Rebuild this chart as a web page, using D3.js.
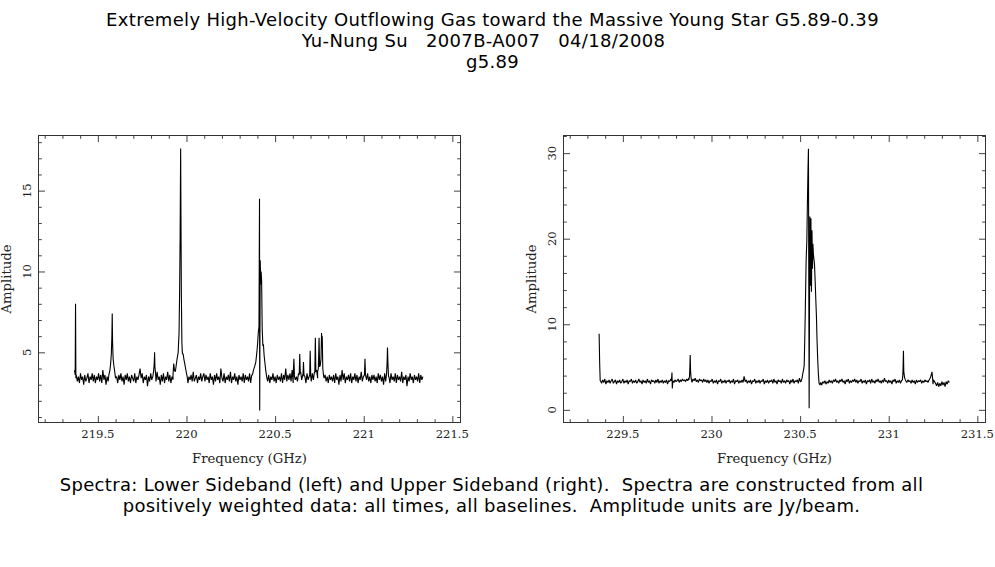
<!DOCTYPE html>
<html>
<head>
<meta charset="utf-8">
<script src="https://cdn.jsdelivr.net/npm/d3@7"></script>
<style>
  body { margin: 0; background: #fff; }
  .ticks line { stroke: #444; stroke-width: 1; }
</style>
</head>
<body>
<svg id="chart" width="995" height="567"></svg>
<script>

    // ---- header / footer text ----
    const titleLines = [
        "Extremely High-Velocity Outflowing Gas toward the Massive Young Star G5.89-0.39",
        "Yu-Nung Su   2007B-A007   04/18/2008   ",
        "g5.89"
    ];
    const captionLines = [
        "Spectra: Lower Sideband (left) and Upper Sideband (right).  Spectra are constructed from all",
        "positively weighted data: all times, all baselines.  Amplitude units are Jy/beam."
    ];

    // ---- lower sideband (left panel) ----
    const lsbDomain = [219.165, 221.546];
    const lsbAmpDomain = [0.66, 18.41];
    const lsbXTicks = [219.5, 220, 220.5, 221, 221.5];
    const lsbYTicks = [5, 10, 15];
    const lsbYMinor = [1, 2, 3, 4, 6, 7, 8, 9, 11, 12, 13, 14, 16, 17, 18];

    // channel noise: start 219.378 GHz, step 0.006 GHz
    const lsbStart = 219.378, lsbStep = 0.006;
    const lsbNoise = [
        3.6,3.2,3.5,3.1,3.7,3.3,3.5,3.0,3.6,3.2,3.4,3.7,3.1,3.5,3.3,3.7,3.2,3.6,3.1,3.5,
        3.3,3.7,3.2,3.6,3.1,3.9,3.3,3.6,3.0,3.5,3.2,3.7,3.3,3.6,3.1,3.4,3.7,3.2,3.5,3.1,
        3.6,3.3,3.7,3.2,3.5,3.0,3.6,3.3,3.7,3.2,3.5,3.1,3.6,3.4,3.2,3.7,3.1,3.5,3.3,3.6,
        4.0,3.4,3.7,3.1,3.5,3.3,3.6,2.9,3.5,3.2,3.7,3.3,3.5,3.1,3.6,3.2,3.8,3.3,3.5,3.0,
        3.6,3.2,3.7,3.1,3.5,3.3,3.8,3.2,3.6,3.1,3.5,3.3,3.7,3.4,3.5,3.6,3.2,3.5,3.3,3.6,
        3.5,3.2,3.6,3.3,3.7,3.1,3.5,3.3,3.6,3.2,3.8,3.2,3.4,3.6,3.1,3.5,3.3,3.7,3.2,3.5,
        3.7,3.2,3.6,3.3,3.5,3.1,3.7,3.3,3.5,3.0,3.6,3.2,3.7,3.3,3.5,3.1,4.0,3.4,3.2,3.7,
        3.1,3.5,3.3,3.6,3.2,3.8,3.1,3.5,3.3,3.7,3.2,3.5,3.0,3.6,3.3,3.5,3.2,3.7,3.1,3.6,
        3.3,3.5,3.2,3.7,3.1,3.6,3.3,3.5,3.2,3.8,3.1,3.5,3.3,3.6,3.2,3.5,3.0,3.7,3.3,3.5,
        3.2,3.6,3.1,3.5,3.3,3.7,3.2,3.5,3.1,3.6,3.3,3.5,3.2,3.7,3.1,3.6,3.3,4.0,3.2,3.6,
        3.3,3.7,3.2,3.9,3.1,3.6,3.3,3.5,3.2,3.7,3.1,3.8,3.3,3.6,3.2,3.5,3.1,3.7,3.3,3.5,
        3.6,3.2,3.7,3.3,3.8,3.2,3.9,3.4,3.8,3.3,3.7,3.5,3.8,3.4,3.6,3.2,3.5,3.1,3.6,3.3,
        3.5,3.2,3.6,3.1,3.7,3.3,3.5,3.0,3.6,3.2,3.9,3.3,3.7,3.1,3.5,3.3,3.6,3.2,3.7,3.1,
        3.5,3.3,3.7,3.2,3.6,3.1,3.5,3.3,3.8,3.2,3.5,3.0,3.6,3.3,3.7,3.2,3.5,3.1,3.6,3.3,
        3.6,3.2,3.5,3.1,3.7,3.3,3.6,3.2,3.5,3.0,3.7,3.2,3.6,3.3,3.5,3.1,3.7,3.3,3.5,3.2,
        3.7,3.1,3.6,3.3,3.5,3.2,3.8,3.1,3.5,3.3,3.6,2.9,3.5,3.2,3.7,3.3,3.5,3.1,3.6,3.3,
        3.5,3.2,3.7,3.1,3.6,3.3,3.5
    ];

    // spectral lines, [GHz, Jy/beam]
    const lsbLines = [
        [[219.368,3.9],[219.372,3.6],[219.374,8.0],[219.376,3.4]],
        [[219.562,3.6],[219.568,3.9],[219.572,4.3],[219.576,4.9],[219.579,6.0],[219.581,7.4],
         [219.583,5.6],[219.586,4.6],[219.590,4.2],[219.595,3.8],[219.600,3.4]],
        [[219.814,3.8],[219.818,4.3],[219.820,5.0],[219.822,4.1],[219.826,3.6]],
        [[219.924,3.6],[219.928,4.3],[219.932,3.9],[219.937,3.8],[219.942,4.2],[219.947,4.6],
         [219.953,5.0],[219.958,6.2],[219.961,8.6],[219.964,12.0],[219.967,17.6],[219.969,13.0],
         [219.971,8.6],[219.974,5.6],[219.977,4.9],[219.981,4.9],[219.985,4.6],[219.990,4.3],
         [219.995,4.0],[220.000,3.7],[220.004,3.5]],
        [[220.372,3.6],[220.378,3.9],[220.384,4.1],[220.391,4.4],[220.397,5.0],[220.401,5.5],
         [220.405,6.2],[220.409,6.6],[220.412,14.5],[220.413,1.4],[220.416,10.7],[220.419,9.2],
         [220.421,10.0],[220.424,9.4],[220.427,6.5],[220.431,5.4],[220.434,5.5],[220.438,4.8],
         [220.442,4.4],[220.447,3.9],[220.452,3.5]],
        [[220.602,3.6],[220.606,4.6],[220.609,3.5]],
        [[220.636,3.6],[220.639,4.9],[220.642,3.7]],
        [[220.657,3.5],[220.660,4.4],[220.663,3.6]],
        [[220.695,3.6],[220.698,5.1],[220.701,3.5]],
        [[220.724,3.7],[220.727,5.9],[220.730,3.8]],
        [[220.740,3.8],[220.744,4.0],[220.748,5.9],[220.751,4.1],[220.755,4.2],[220.759,4.6],
         [220.762,6.2],[220.764,5.5],[220.766,6.0],[220.769,4.0],[220.773,3.6]],
        [[221.004,3.6],[221.007,4.6],[221.010,3.6]],
        [[221.129,3.7],[221.132,4.4],[221.134,5.3],[221.137,4.2],[221.140,3.5]]
    ];

    // ---- upper sideband (right panel) ----
    const usbDomain = [229.165, 231.546];
    const usbAmpDomain = [-1.48, 32.06];
    const usbXTicks = [229.5, 230, 230.5, 231, 231.5];
    const usbYTicks = [0, 10, 20, 30];
    const usbYMinor = [2, 4, 6, 8, 12, 14, 16, 18, 22, 24, 26, 28, 32];

    const usbStart = 229.374, usbStep = 0.006;
    const usbNoise = [
        3.4,3.1,3.5,3.2,3.6,3.0,3.4,3.2,3.5,3.1,3.4,3.6,3.1,3.3,3.5,3.0,3.4,3.2,3.5,3.1,
        3.3,3.6,3.1,3.4,3.2,3.5,3.0,3.4,3.3,3.6,3.1,3.4,3.2,3.5,3.1,3.3,3.6,3.2,3.4,3.0,
        3.5,3.2,3.4,3.1,3.6,3.2,3.4,3.0,3.5,3.3,3.4,3.1,3.5,3.2,3.6,3.1,3.4,3.2,3.5,3.1,
        3.4,3.2,3.5,3.0,3.4,3.3,3.6,3.1,3.4,3.2,3.5,3.3,3.4,3.6,3.2,3.5,3.3,3.6,3.4,3.5,
        3.3,3.6,3.4,3.7,3.3,3.5,3.2,3.6,3.4,3.7,3.3,3.5,3.2,3.6,3.4,3.5,3.2,3.6,3.3,3.5,
        3.2,3.5,3.1,3.4,3.3,3.6,3.1,3.4,3.2,3.5,3.0,3.4,3.3,3.6,3.1,3.4,3.2,3.5,3.1,3.4,
        3.3,3.5,3.1,3.4,3.2,3.6,3.0,3.4,3.3,3.5,3.1,3.4,3.2,3.5,3.2,3.9,3.3,3.5,3.1,3.4,
        3.2,3.5,3.0,3.4,3.3,3.6,3.1,3.4,3.2,3.5,3.1,3.4,3.3,3.6,3.0,3.4,3.2,3.5,3.1,3.4,
        3.3,3.5,3.1,3.6,3.2,3.4,3.0,3.5,3.3,3.4,3.1,3.6,3.2,3.4,3.1,3.5,3.3,3.4,3.0,3.5,
        3.2,3.6,3.1,3.4,3.3,3.5,3.1,3.7,3.3,3.5,3.2,3.4,3.3,3.5,3.2,3.4,3.3,3.5,3.2,3.4,
        3.3,3.4,3.2,3.5,3.1,3.3,3.0,3.2,2.9,3.3,3.1,3.4,3.0,3.3,3.1,3.5,3.2,3.4,3.1,3.5,
        3.3,3.6,3.2,3.4,3.1,3.5,3.3,3.6,3.2,3.4,3.0,3.5,3.3,3.6,3.1,3.4,3.2,3.5,3.3,3.6,
        3.2,3.5,3.1,3.4,3.3,3.6,3.1,3.4,3.2,3.5,3.0,3.4,3.3,3.5,3.1,3.6,3.2,3.4,3.1,3.5,
        3.3,3.6,3.2,3.4,3.1,3.5,3.2,3.7,3.3,3.4,3.1,3.5,3.2,3.4,3.0,3.5,3.3,3.6,3.1,3.4,
        3.2,3.5,3.1,3.4,3.3,3.5,3.1,3.4,3.2,3.5,3.3,3.4,3.1,3.5,3.2,3.4,3.0,3.5,3.2,3.4,
        3.3,3.5,3.1,3.4,3.2,3.5,3.3,3.4,3.2,3.5,3.3,3.6,3.4,3.5,3.3,3.1,2.8,3.2,2.7,3.1,
        2.8,3.3,2.9,3.2,2.7,3.3,3.0,3.4,3.2
    ];

    const usbLines = [
        [[229.366,8.9],[229.369,5.5],[229.372,3.4]],
        [[229.774,3.4],[229.777,4.35],[229.779,2.5],[229.782,3.4]],
        [[229.872,3.5],[229.876,3.9],[229.878,5.0],[229.880,6.4],[229.882,4.5],[229.885,3.7]],
        [[230.505,3.3],[230.511,3.7],[230.515,4.2],[230.519,4.6],[230.523,5.2],[230.526,8.0],
         [230.529,11.3],[230.534,17.5],[230.538,19.8],[230.541,24.0],[230.544,27.6],[230.547,30.5],
         [230.549,15.0],[230.551,0.2],[230.553,12.0],[230.555,22.6],[230.558,14.5],[230.561,22.4],
         [230.564,13.8],[230.567,21.0],[230.570,16.5],[230.572,19.4],[230.575,18.2],[230.578,17.6],
         [230.581,17.1],[230.585,15.0],[230.588,13.2],[230.592,11.0],[230.595,8.5],[230.599,6.0],
         [230.603,4.2],[230.607,3.1],[230.612,2.9]],
        [[231.077,3.5],[231.080,4.2],[231.083,6.9],[231.085,4.5],[231.089,3.8],[231.094,3.5]],
        [[231.225,3.4],[231.231,3.6],[231.236,3.8],[231.240,4.1],[231.244,4.45],[231.247,3.8],[231.250,3.0]]
    ];

    // merge channel noise with the line profiles
    function buildSpectrum(start, step, noise, lines) {
        const pts = noise.map(function (a, i) { return [start + i * step, a]; })
            .filter(function (p) {
                return !lines.some(function (g) { return p[0] >= g[0][0] && p[0] <= g[g.length - 1][0]; });
            });
        lines.forEach(function (g) { g.forEach(function (p) { pts.push(p); }); });
        return pts.sort(function (a, b) { return a[0] - b[0]; });
    }

    const svg = d3.select("#chart");

    // title
    svg.append("g").selectAll("text").data(titleLines).enter().append("text")
        .attr("x", 492.5).attr("y", function (d, i) { return 26 + i * 21.2; })
        .attr("text-anchor", "middle")
        .style("white-space", "pre")
        .style("font-family", "'DejaVu Sans'").style("font-size", "18px")
        .style("letter-spacing", "0.32px")
        .text(function (d) { return d; });

    svg.append("g").selectAll("text").data(captionLines).enter().append("text")
        .attr("x", 491.5).attr("y", function (d, i) { return 491 + i * 21.4; })
        .attr("text-anchor", "middle")
        .style("white-space", "pre")
        .style("font-family", "'DejaVu Sans'").style("font-size", "18px")
        .style("letter-spacing", "0.32px")
        .text(function (d) { return d; });

    function drawPanel(opts) {
        const x0 = opts.left, x1 = opts.left + 422, y0 = 135.5, y1 = 422.5;
        const x = d3.scaleLinear().domain(opts.xDomain).range([x0, x1]);
        const y = d3.scaleLinear().domain(opts.yDomain).range([y1, y0]);
        const xMinor = d3.range(Math.ceil(opts.xDomain[0] * 10), Math.floor(opts.xDomain[1] * 10) + 1)
            .map(function (v) { return v / 10; })
            .filter(function (v) { return opts.xTicks.indexOf(v) < 0; });

        const g = svg.append("g");

        // ticks on all four sides, pointing inward
        const axes = [
            [d3.axisBottom(x), y1, "x"], [d3.axisTop(x), y0, "x"],
            [d3.axisLeft(y), x0, "y"], [d3.axisRight(y), x1, "y"]
        ];
        axes.forEach(function (a) {
            [[a[2] === "x" ? opts.xTicks : opts.yTicks, 6.5], [a[2] === "x" ? xMinor : opts.yMinor, 3.3]]
                .forEach(function (set) {
                    const ax = a[0].tickValues(set[0]).tickSize(-set[1]).tickFormat("");
                    const ag = g.append("g").attr("class", "ticks")
                        .attr("transform", a[2] === "x" ? "translate(0," + a[1] + ")" : "translate(" + a[1] + ",0)")
                        .call(ax);
                    ag.select(".domain").remove();
                    ag.selectAll("line").attr("stroke", "#444");
                });
        });

        g.append("rect")
            .attr("x", x0).attr("y", y0).attr("width", x1 - x0).attr("height", y1 - y0)
            .attr("fill", "none").attr("stroke", "#333").attr("stroke-width", 1);

        // tick labels
        g.selectAll(".xlab").data(opts.xTicks).enter().append("text")
            .attr("x", function (d) { return x(d); }).attr("y", y1 + 15.8)
            .attr("text-anchor", "middle")
            .style("font-family", "'DejaVu Serif'").style("font-size", "11.6px").attr("fill", "#222")
            .text(function (d) { return d; });

        g.selectAll(".ylab").data(opts.yTicks).enter().append("text")
            .attr("transform", function (d) { return "translate(" + (x0 - 7.5) + "," + y(d) + ") rotate(-90)"; })
            .attr("text-anchor", "middle")
            .style("font-family", "'DejaVu Serif'").style("font-size", "11.6px").attr("fill", "#222")
            .text(function (d) { return d; });

        g.append("text")
            .attr("x", (x0 + x1) / 2).attr("y", 463)
            .attr("text-anchor", "middle")
            .style("font-family", "'DejaVu Serif'").style("font-size", "13.2px").attr("fill", "#222")
            .text("Frequency (GHz)");

        g.append("text")
            .attr("transform", "translate(" + (x0 - 27.5) + "," + ((y0 + y1) / 2) + ") rotate(-90)")
            .attr("text-anchor", "middle")
            .style("font-family", "'DejaVu Serif'").style("font-size", "13.2px").attr("fill", "#222")
            .text("Amplitude");

        const line = d3.line()
            .x(function (d) { return x(d[0]); })
            .y(function (d) { return y(d[1]); });

        g.append("path")
            .datum(opts.spectrum)
            .attr("d", line)
            .attr("fill", "none")
            .attr("stroke", "#000")
            .attr("stroke-width", 1.1)
            .attr("stroke-linejoin", "bevel");
    }

    drawPanel({
        left: 38.5, xDomain: lsbDomain, yDomain: lsbAmpDomain,
        xTicks: lsbXTicks, yTicks: lsbYTicks, yMinor: lsbYMinor,
        spectrum: buildSpectrum(lsbStart, lsbStep, lsbNoise, lsbLines)
    });

    drawPanel({
        left: 563.5, xDomain: usbDomain, yDomain: usbAmpDomain,
        xTicks: usbXTicks, yTicks: usbYTicks, yMinor: usbYMinor,
        spectrum: buildSpectrum(usbStart, usbStep, usbNoise, usbLines)
    });

</script>
</body>
</html>
